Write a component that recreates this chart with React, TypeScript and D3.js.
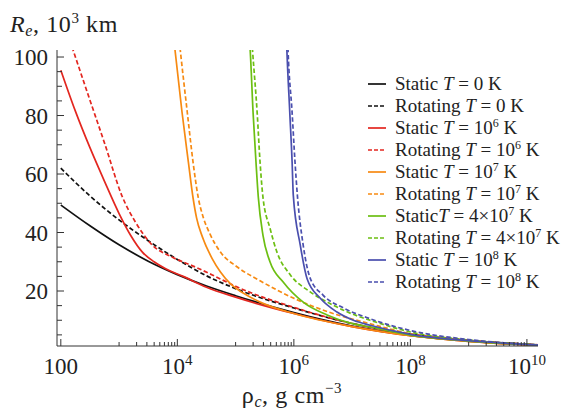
import * as d3 from "d3"

// log10(rho) , R_e (10^3 km)
const staticT0: [number, number][] = [
  [2, 49.4], [2.5, 42.3], [3, 35.8], [3.5, 30.2], [4, 25.6], [4.5, 21.7], [5, 18.4],
  [6, 12.6], [7, 8], [8, 4.8], [9, 2.9], [10, 1.7], [10.19, 1.5],
]
const rotT0: [number, number][] = [
  [2, 62], [2.5, 52.5], [3, 44.3], [3.5, 37.2], [4, 30.8], [4.5, 25.2], [5, 20.8],
  [6, 14.2], [7, 8.9], [8, 5.3], [9, 3.1], [10, 1.8], [10.19, 1.6],
]
const staticT6: [number, number][] = [
  [2, 95.5], [2.25, 81.5], [2.5, 69], [2.75, 57.5], [3, 46.5], [3.2, 39], [3.4, 33.3],
  [3.6, 30], [3.8, 27.6], [4.1, 25], [4.5, 21.3], [5, 17.9], [6, 12.3], [7, 7.8], [8, 4.7],
  [9, 2.8], [10, 1.6], [10.19, 1.4],
]
const rotT6: [number, number][] = [
  [2.115, 108], [2.21, 102.4], [2.47, 87], [2.76, 70], [3.05, 52.5], [3.28, 43.6], [3.57, 35.7],
  [3.91, 31.6], [4.31, 28.2], [4.65, 25], [5, 21.6], [6, 14.4], [7, 8.9], [8, 5.3],
  [9, 3.1], [10, 1.8], [10.19, 1.6],
]
const staticT7: [number, number][] = [
  [3.93, 108], [3.96, 102.4], [4.08, 81.2], [4.19, 64], [4.27, 51.8], [4.33, 45], [4.43, 38.5],
  [4.6, 31], [4.74, 26.5], [4.91, 22.5], [5.13, 19.3], [5.42, 16.2], [6, 12.3], [7, 7.8],
  [8, 4.7], [9, 2.8], [10, 1.6], [10.19, 1.4],
]
const rotT7: [number, number][] = [
  [4.02, 108], [4.05, 102.4], [4.17, 81.2], [4.27, 64], [4.36, 51.8], [4.44, 45.5], [4.56, 39.5],
  [4.74, 33.3], [5.03, 28.2], [5.42, 23.5], [6, 17.5], [6.57, 13], [7.31, 8.8], [8, 5.4],
  [9, 3.1], [10, 1.8], [10.19, 1.6],
]
const staticT4e7: [number, number][] = [
  [5.23, 108], [5.25, 102.4], [5.3, 81], [5.35, 64], [5.39, 52], [5.47, 39], [5.59, 30],
  [5.82, 23], [6.16, 16.2], [6.57, 11.8], [6.97, 9], [7.31, 7.7], [8, 4.9], [9, 2.9],
  [10, 1.7], [10.19, 1.5],
]
const rotT4e7: [number, number][] = [
  [5.27, 108], [5.29, 102.4], [5.37, 81], [5.42, 64], [5.47, 52], [5.59, 41.5], [5.71, 33.3],
  [5.94, 25.5], [6.28, 19.7], [6.67, 15.2], [7.14, 11.1], [7.31, 10], [8, 6], [9, 3.2],
  [10, 1.8], [10.19, 1.6],
]
const staticT8: [number, number][] = [
  [5.87, 108], [5.88, 102.4], [5.93, 81], [5.97, 64], [5.99, 52.8], [6.11, 35.7], [6.23, 24],
  [6.45, 17.6], [6.74, 12.8], [7.02, 10], [7.31, 8.3], [8, 5.2], [9, 3], [10, 1.7], [10.19, 1.5],
]
const rotT8: [number, number][] = [
  [5.89, 108], [5.9, 102.4], [5.97, 81], [6.02, 64], [6.06, 52.8], [6.16, 35.7], [6.28, 24.4],
  [6.5, 18.6], [6.85, 14.2], [7.31, 10.5], [8, 6.5], [9, 3.4], [10, 1.8], [10.19, 1.6],
]

const seriesData = [staticT0, rotT0, staticT6, rotT6, staticT7, rotT7, staticT4e7, rotT4e7, staticT8, rotT8]
const seriesColors = ["#111111", "#111111", "#e3261f", "#e3261f", "#f78a12", "#f78a12", "#6cbf12", "#6cbf12", "#4a4fae", "#4a4fae"]
const seriesDashed = [false, true, false, true, false, true, false, true, false, true]
// legend: prefix, temperature mantissa, exponent
const legendKind = ["Static ", "Rotating ", "Static ", "Rotating ", "Static ", "Rotating ", "Static", "Rotating ", "Static ", "Rotating "]
const legendTemp = ["0", "0", "10", "10", "10", "10", "4×10", "4×10", "10", "10"]
const legendExp = ["", "", "6", "6", "7", "7", "7", "7", "8", "8"]

const xMajor = [2, 4, 6, 8, 10]
const xMinorDecades = [3, 5, 7, 9]
const yMajor = [20, 40, 60, 80, 100]

const W = 564
const H = 411
const left = 57
const right = 538
const top = 50
const bottom = 346
const serif = "'Liberation Serif', 'DejaVu Serif', serif"
const ink = "#222"

export default function App() {
  const x = d3.scaleLog().domain([86, 1.55e10]).range([left, right])
  const y = d3.scaleLinear().domain([1.2, 102.4]).range([bottom, top])
  const line = d3
    .line<[number, number]>()
    .x((d) => x(Math.pow(10, d[0])))
    .y((d) => y(d[1]))
    .curve(d3.curveMonotoneX)

  const xMinor: number[] = []
  xMinorDecades.forEach((e) => {
    for (let k = 1; k <= 9; k++) xMinor.push(k * Math.pow(10, e))
  })
  const yMinor = d3.range(5, 100, 5).filter((v) => v % 20 !== 0)

  return (
    <svg width={W} height={H} style={{ position: "absolute", left: 0, top: 0, background: "#fff" }}>
      <defs>
        <clipPath id="plot">
          <rect x={left} y={top} width={right - left + 2} height={bottom - top} />
        </clipPath>
      </defs>

      {/* curves */}
      <g clipPath="url(#plot)" fill="none">
        {seriesData.map((s, i) => (
          <path
            key={i}
            d={line(s) || ""}
            stroke={seriesColors[i]}
            strokeWidth={1.7}
            strokeDasharray={seriesDashed[i] ? "4.5,2.5" : undefined}
          />
        ))}
      </g>

      {/* axes */}
      <g stroke="#333" strokeWidth={1}>
        <line x1={left} x2={left} y1={top} y2={bottom} />
        <line x1={left} x2={right} y1={bottom} y2={bottom} />
        {yMajor.map((v) => (
          <line key={"ym" + v} x1={left} x2={left + 7} y1={y(v)} y2={y(v)} />
        ))}
        {yMinor.map((v) => (
          <line key={"yn" + v} x1={left} x2={left + 5} y1={y(v)} y2={y(v)} />
        ))}
        {xMajor.map((e) => (
          <line key={"xm" + e} x1={x(Math.pow(10, e))} x2={x(Math.pow(10, e))} y1={bottom} y2={bottom - 7} />
        ))}
        {xMinor.map((v, i) => (
          <line key={"xn" + i} x1={x(v)} x2={x(v)} y1={bottom} y2={bottom - 4} />
        ))}
      </g>

      {/* tick labels */}
      <g fontFamily={serif} fill={ink}>
        {yMajor.map((v) => (
          <text key={"yl" + v} x={48} y={y(v)} dy="0.35em" fontSize={23} textAnchor="end">
            {v}
          </text>
        ))}
        {xMajor.map((e) => (
          <text key={"xl" + e} x={x(Math.pow(10, e))} y={374} fontSize={23} textAnchor="middle">
            {e === 2 ? (
              "100"
            ) : (
              <>
                10
                <tspan fontSize={15} dy={-9}>
                  {e}
                </tspan>
              </>
            )}
          </text>
        ))}
      </g>

      {/* axis titles */}
      <text x={10} y={32} fontFamily={serif} fontSize={24} fill={ink} letterSpacing={0.6}>
        <tspan fontStyle="italic">R</tspan>
        <tspan fontStyle="italic" fontSize={16} dy={4}>
          e
        </tspan>
        <tspan dy={-4}>, 10</tspan>
        <tspan fontSize={15} dy={-9}>
          3
        </tspan>
        <tspan dy={9}> km</tspan>
      </text>
      <text x={292} y={403} fontFamily={serif} fontSize={24} fill={ink} textAnchor="middle" letterSpacing={0.6}>
        ρ
        <tspan fontStyle="italic" fontSize={16} dy={4}>
          c
        </tspan>
        <tspan dy={-4}>, g cm</tspan>
        <tspan fontSize={15} dy={-10}>
          −3
        </tspan>
      </text>

      {/* legend */}
      <g fontFamily={serif} fill={ink}>
        {seriesData.map((_, i) => {
          const cy = 84 + i * 22
          return (
            <g key={"lg" + i}>
              <line
                x1={368}
                x2={386}
                y1={cy}
                y2={cy}
                stroke={seriesColors[i]}
                strokeWidth={1.7}
                strokeDasharray={seriesDashed[i] ? "4,2" : undefined}
              />
              <text x={395} y={cy + 6} fontSize={19}>
                {legendKind[i]}
                <tspan fontStyle="italic">T</tspan> = {legendTemp[i]}
                {legendExp[i] ? (
                  <>
                    <tspan fontSize={12} dy={-7}>
                      {legendExp[i]}
                    </tspan>
                    <tspan dy={7}> K</tspan>
                  </>
                ) : (
                  " K"
                )}
              </text>
            </g>
          )
        })}
      </g>
    </svg>
  )
}
